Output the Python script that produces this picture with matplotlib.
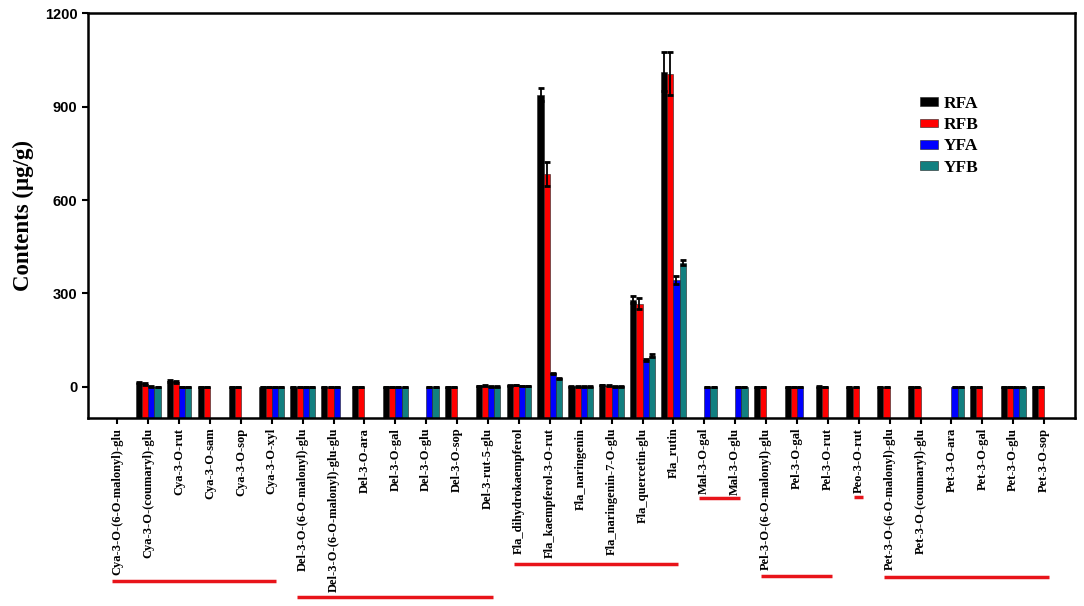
import numpy as np
import matplotlib
matplotlib.use("Agg")
import matplotlib.pyplot as plt
from matplotlib.transforms import blended_transform_factory

nan = np.nan

categories = ["Cya-3-O-(6-O-malonyl)-glu", "Cya-3-O-(coumaryl)-glu", "Cya-3-O-rut", "Cya-3-O-sam",
              "Cya-3-O-sop", "Cya-3-O-xyl", "Del-3-O-(6-O-malonyl)-glu", "Del-3-O-(6-O-malonyl)-glu-glu",
              "Del-3-O-ara", "Del-3-O-gal", "Del-3-O-glu", "Del-3-O-sop", "Del-3-rut-5-glu",
              "Fla_dihydrokaempferol", "Fla_kaempferol-3-O-rut", "Fla_naringenin", "Fla_naringenin-7-O-glu",
              "Fla_quercetin-glu", "Fla_rutin", "Mal-3-O-gal", "Mal-3-O-glu", "Pel-3-O-(6-O-malonyl)-glu",
              "Pel-3-O-gal", "Pel-3-O-rut", "Peo-3-O-rut", "Pet-3-O-(6-O-malonyl)-glu",
              "Pet-3-O-(coumaryl)-glu", "Pet-3-O-ara", "Pet-3-O-gal", "Pet-3-O-glu", "Pet-3-O-sop"]

RFA = [nan, 14, 19, 0, 0, 0, 0, 0, 0, 0, nan, 0, 3, 5, 939, 2, 6, 280, 1013,
       nan, nan, 0, 0, 1, 0, 0, 0, nan, 0, 0, 0]
RFB = [nan, 9, 16, 0, 0, 0, 0, 0, 0, 0, nan, 0, 4, 6, 684, 1, 4, 267, 1006,
       nan, nan, 0, 0, 0, 0, 0, 0, nan, 0, 0, 0]
YFA = [nan, 1, 0, nan, nan, 0, 0, 0, nan, 0, 0, nan, 1, 3, 43, 1, 2, 86, 344,
       0, 0, nan, 0, nan, nan, nan, nan, 0, nan, 0, nan]
YFB = [nan, 0, 0, nan, nan, 0, 0, nan, nan, 0, 0, nan, 1, 3, 27, 1, 2, 100, 398,
       0, 0, nan, nan, nan, nan, nan, nan, 0, nan, 0, nan]

RFA_err = [0, 2, 2, 1, 1, 1, 1, 1, 1, 1, 0, 1, 1, 1, 22, 1, 1, 11, 64, 0, 0, 1, 1, 1, 1, 1, 1, 0, 1, 1, 1]
RFB_err = [0, 2, 2, 1, 1, 1, 1, 1, 1, 1, 0, 1, 1, 1, 38, 1, 1, 18, 70, 0, 0, 1, 1, 1, 1, 1, 1, 0, 1, 1, 1]
YFA_err = [0, 1, 1, 0, 0, 1, 1, 1, 0, 1, 1, 0, 1, 1, 3, 1, 1, 4, 12, 1, 1, 0, 1, 0, 0, 0, 0, 1, 0, 1, 0]
YFB_err = [0, 1, 1, 0, 0, 1, 1, 0, 0, 1, 1, 0, 1, 1, 3, 1, 1, 4, 8, 1, 1, 0, 0, 0, 0, 0, 0, 1, 0, 1, 0]

series = ["RFA", "RFB", "YFA", "YFB"]
values = [RFA, RFB, YFA, YFB]
errors = [RFA_err, RFB_err, YFA_err, YFB_err]
colors = ["#000000", "#ff0000", "#0000ff", "#128080"]

# red underlines for compound classes: (first, last category index, y in figure pixels)
groups = [(0, 5, 581), (6, 12, 597), (13, 18, 564), (19, 20, 498),
          (21, 23, 576), (24, 24, 497), (25, 30, 577)]

serif = ["Liberation Serif", "DejaVu Serif"]
sans = ["Liberation Sans", "DejaVu Sans"]

W, H = 1084, 606
fig = plt.figure(figsize=(W / 100, H / 100), dpi=100)
ax = fig.add_axes([88 / W, 1 - 418 / H, (1075 - 88) / W, (418 - 13.3) / H])

ymin = -100
x = np.arange(len(categories))
bw = 0.2
for k, (name, v, e, c) in enumerate(zip(series, values, errors, colors)):
    v = np.array(v, dtype=float)
    e = np.array(e, dtype=float)
    xs = x + (k - 1.5) * bw
    ok = ~np.isnan(v)
    ax.bar(xs[ok], v[ok] - ymin, bottom=ymin, width=bw, color=c, edgecolor="#222222",
           linewidth=0.4, label=name, zorder=2)
    ax.errorbar(xs[ok], v[ok], yerr=e[ok], fmt="none", ecolor="black", elinewidth=1.3,
                capsize=2.2, capthick=2, zorder=3)

ax.set_xlim(-0.95, 31.0)
ax.set_ylim(ymin, 1200)
ax.set_yticks([0, 300, 600, 900, 1200])
ax.set_xticks(x)
ax.set_xticklabels(categories, rotation=90, fontsize=9, fontweight="bold", family=serif)
for lab in ax.get_yticklabels():
    lab.set_fontfamily(sans)
    lab.set_fontweight("bold")
    lab.set_fontsize(10.5)
ax.tick_params(axis="both", direction="out", length=4, width=1.5)
ax.tick_params(axis="x", pad=3)
for sp in ax.spines.values():
    sp.set_linewidth(1.8)

ax.set_ylabel("Contents (μg/g)", fontsize=16.5, fontweight="bold", family=serif, labelpad=8)

leg = ax.legend(loc="upper left", bbox_to_anchor=((920 - 88) / 987, (418 - 96) / 404.7),
                frameon=False, prop={"family": serif, "weight": "bold", "size": 12.5},
                handlelength=1.05, handleheight=0.4, handletextpad=0.3, labelspacing=0.3,
                borderpad=0, borderaxespad=0)

tr = blended_transform_factory(ax.transData, fig.transFigure)
for a, b, ypx in groups:
    yf = 1 - ypx / H
    ax.plot([a - 0.17, b + 0.15], [yf, yf], color="#e8141a", lw=2.5, transform=tr,
            clip_on=False, solid_capstyle="butt")

fig.savefig("out.png", dpi=100)
